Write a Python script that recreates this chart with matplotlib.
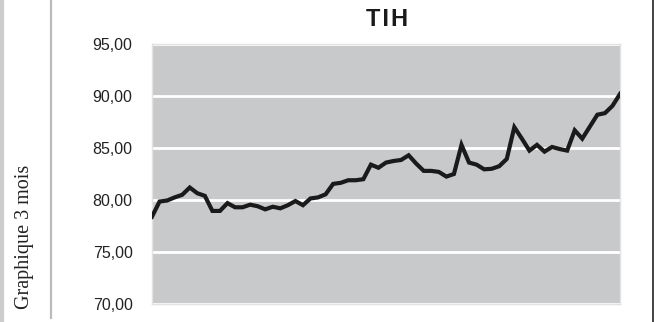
import numpy as np
import matplotlib.pyplot as plt
from matplotlib.lines import Line2D

# TIH, 63 daily values over 3 months
values = [78.4, 79.85, 79.95, 80.25, 80.5, 81.2, 80.65, 80.4, 78.95, 78.95,
          79.7, 79.3, 79.3, 79.55, 79.4, 79.1, 79.35, 79.2, 79.5, 79.9,
          79.5, 80.15, 80.25, 80.55, 81.55, 81.65, 81.9, 81.9, 82.0, 83.4,
          83.1, 83.6, 83.75, 83.85, 84.3, 83.5, 82.8, 82.8, 82.7, 82.25,
          82.5, 85.3, 83.6, 83.4, 82.95, 83.0, 83.25, 83.95, 87.0, 85.9,
          84.75, 85.3, 84.65, 85.1, 84.9, 84.75, 86.7, 85.9, 87.05, 88.2,
          88.35, 89.05, 90.2]
y_ticks = [70, 75, 80, 85, 90, 95]
y_labels = ['70,00', '75,00', '80,00', '85,00', '90,00', '95,00']
title = 'TIH'
side_label = 'Graphique 3 mois'

W, H = 654, 322
fig = plt.figure(figsize=(W / 100, H / 100), dpi=100)
ax = fig.add_axes([152 / W, 1 - 304 / H, (620 - 152) / W, (304 - 44) / H])

ax.set_facecolor('#C8C9CB')
x = np.arange(len(values))
ax.plot(x, values, color='#1a1a1a', linewidth=3.0, solid_joinstyle='miter',
        zorder=3)

ax.set_xlim(0, len(values) - 1)
ax.set_ylim(70, 95)
ax.set_yticks(y_ticks)
ax.set_yticklabels(y_labels, family='Liberation Sans', fontsize=11.5,
                   color='#222222')
ax.set_xticks([])
ax.tick_params(axis='y', length=0, pad=14)
ax.grid(axis='y', color='white', linewidth=2)
ax.set_axisbelow(True)
for s in ax.spines.values():
    s.set_color('#E2E2E2')
    s.set_linewidth(1)

# letter-spaced title
fig.text(387 / W, 1 - 19.5 / H, '\u200a'.join(title), ha='center',
         va='center', family=['Liberation Sans', 'DejaVu Sans'],
         fontweight='bold', fontsize=17, color='#1a1a1a')
fig.text(25 / W, 1 - 237 / H, side_label, rotation=90, ha='center',
         va='center', family='Liberation Serif', fontsize=14.5,
         color='#222222')

# frame lines of the page
fig.add_artist(Line2D([1.5 / W, 1.5 / W], [0, 1], color='#CCCCCC',
                      linewidth=3, transform=fig.transFigure))
fig.add_artist(Line2D([51 / W, 51 / W], [1 - 318 / H, 1], color='#BBBBBB',
                      linewidth=1.6, transform=fig.transFigure))
fig.add_artist(Line2D([653 / W, 653 / W], [0, 1], color='#222222',
                      linewidth=1.2, transform=fig.transFigure))

plt.savefig('out.png', dpi=100)
